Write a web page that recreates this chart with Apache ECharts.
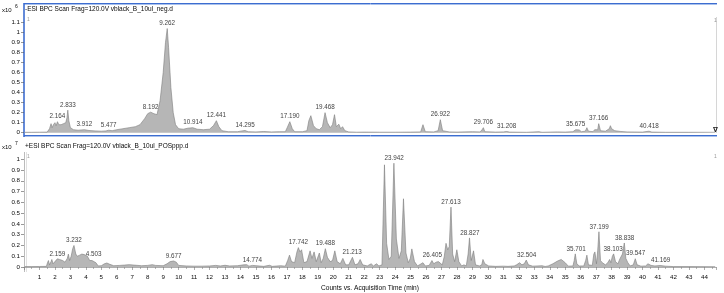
<!DOCTYPE html>
<html>
<head>
<meta charset="utf-8">
<style>
  html, body { margin: 0; padding: 0; background: #fff; }
  #chart { width: 724px; height: 293px; }
</style>
<script src="https://cdn.jsdelivr.net/npm/echarts@6/dist/echarts.min.js"></script>
</head>
<body>
<div id="chart"></div>
<script>
// -ESI trace, x10^6 counts: [time (min), intensity]
var negTrace = [
  [0.05,0.004],[0.5,0.004],[1.0,0.005],[1.5,0.006],[1.65,0.04],[1.75,0.09],[1.82,0.05],[1.9,0.08],
  [2.0,0.1],[2.08,0.07],[2.164,0.11],[2.25,0.08],[2.4,0.08],[2.55,0.09],[2.7,0.1],[2.78,0.15],
  [2.833,0.225],[2.9,0.12],[3.0,0.05],[3.2,0.03],[3.5,0.025],[3.912,0.03],[4.2,0.022],[4.6,0.018],
  [5.0,0.015],[5.3,0.018],[5.477,0.025],[5.7,0.02],[6.0,0.03],[6.4,0.04],[6.8,0.05],[7.2,0.06],
  [7.5,0.08],[7.8,0.14],[8.0,0.19],[8.192,0.205],[8.4,0.19],[8.6,0.18],[8.8,0.32],[9.0,0.6],
  [9.15,0.9],[9.262,1.04],[9.35,0.85],[9.5,0.45],[9.65,0.2],[9.8,0.08],[10.0,0.04],[10.3,0.035],
  [10.6,0.045],[10.914,0.05],[11.2,0.035],[11.6,0.03],[12.0,0.035],[12.25,0.07],[12.441,0.12],
  [12.6,0.06],[12.8,0.02],[13.2,0.01],[13.8,0.01],[14.1,0.018],[14.295,0.022],[14.5,0.01],
  [15.0,0.008],[15.5,0.012],[16.0,0.008],[16.5,0.01],[16.9,0.01],[17.02,0.05],[17.19,0.11],
  [17.35,0.04],[17.5,0.01],[18.0,0.01],[18.3,0.02],[18.42,0.12],[18.55,0.17],[18.72,0.07],
  [18.9,0.04],[19.1,0.03],[19.3,0.06],[19.468,0.2],[19.62,0.1],[19.8,0.05],[19.95,0.08],
  [20.08,0.18],[20.2,0.06],[20.36,0.085],[20.48,0.04],[20.6,0.06],[20.75,0.02],[21.0,0.008],
  [21.5,0.005],[22.0,0.006],[23.0,0.005],[24.0,0.005],[25.0,0.006],[25.65,0.008],[25.8,0.08],
  [25.95,0.01],[26.5,0.008],[26.78,0.02],[26.922,0.13],[27.07,0.02],[27.5,0.008],[28.0,0.006],
  [29.0,0.01],[29.5,0.008],[29.62,0.03],[29.706,0.05],[29.8,0.01],[30.5,0.006],[31.0,0.008],
  [31.208,0.012],[31.4,0.006],[32.5,0.004],[33.3,0.01],[33.5,0.004],[34.5,0.008],[35.0,0.006],
  [35.5,0.01],[35.6,0.028],[35.675,0.03],[35.8,0.02],[35.9,0.028],[36.05,0.01],[36.3,0.015],
  [36.4,0.05],[36.5,0.015],[36.8,0.01],[36.9,0.03],[37.0,0.015],[37.1,0.03],[37.166,0.09],
  [37.28,0.02],[37.6,0.015],[37.85,0.04],[37.92,0.07],[38.0,0.04],[38.2,0.02],[38.6,0.012],
  [39.0,0.008],[40.0,0.006],[40.418,0.015],[40.6,0.006],[41.5,0.004],[43.0,0.004],[44.7,0.004]
];

// +ESI trace, x10^7 counts
var posTrace = [
  [0.05,0.004],[0.5,0.004],[1.0,0.005],[1.45,0.006],[1.52,0.04],[1.58,0.06],[1.65,0.02],[1.75,0.05],
  [1.8,0.07],[1.88,0.03],[2.0,0.05],[2.159,0.076],[2.3,0.07],[2.5,0.06],[2.65,0.045],[2.8,0.08],
  [2.87,0.12],[2.95,0.06],[3.05,0.1],[3.15,0.17],[3.232,0.2],[3.35,0.12],[3.45,0.1],[3.6,0.11],
  [3.74,0.12],[3.9,0.115],[4.1,0.1],[4.25,0.06],[4.4,0.06],[4.503,0.068],[4.65,0.04],[4.8,0.01],
  [5.0,0.012],[5.2,0.03],[5.36,0.037],[5.55,0.025],[5.8,0.012],[6.2,0.015],[6.5,0.018],[6.8,0.022],
  [7.1,0.018],[7.6,0.012],[8.0,0.015],[8.3,0.022],[8.5,0.015],[9.0,0.012],[9.25,0.03],[9.45,0.05],
  [9.677,0.056],[9.85,0.045],[10.0,0.015],[10.5,0.01],[11.0,0.008],[11.5,0.008],[12.0,0.01],
  [12.4,0.015],[12.7,0.01],[13.0,0.016],[13.3,0.01],[13.8,0.012],[14.2,0.02],[14.4,0.022],
  [14.55,0.008],[14.774,0.015],[14.9,0.006],[15.5,0.006],[15.88,0.016],[16.05,0.006],[16.6,0.012],
  [16.9,0.008],[17.05,0.06],[17.17,0.11],[17.3,0.05],[17.5,0.04],[17.65,0.14],[17.742,0.18],
  [17.85,0.14],[17.95,0.16],[18.1,0.04],[18.3,0.05],[18.5,0.15],[18.62,0.08],[18.76,0.14],
  [18.9,0.05],[19.0,0.06],[19.1,0.13],[19.22,0.04],[19.35,0.08],[19.488,0.17],[19.62,0.09],
  [19.8,0.05],[19.95,0.06],[20.1,0.15],[20.25,0.05],[20.45,0.03],[20.62,0.08],[20.8,0.02],
  [21.0,0.02],[21.24,0.09],[21.4,0.02],[21.6,0.03],[21.74,0.07],[21.9,0.02],[22.2,0.01],
  [22.45,0.03],[22.6,0.01],[22.8,0.03],[22.95,0.01],[23.15,0.02],[23.31,0.948],[23.45,0.22],
  [23.6,0.07],[23.75,0.1],[23.92,0.963],[24.08,0.26],[24.25,0.08],[24.4,0.15],[24.54,0.633],
  [24.7,0.13],[24.85,0.04],[24.98,0.08],[25.08,0.168],[25.25,0.05],[25.45,0.01],[25.8,0.04],
  [25.95,0.01],[26.2,0.015],[26.38,0.06],[26.5,0.03],[26.65,0.045],[26.8,0.05],[26.92,0.06],
  [27.05,0.02],[27.18,0.1],[27.29,0.22],[27.4,0.16],[27.5,0.19],[27.613,0.556],[27.72,0.12],
  [27.85,0.05],[27.99,0.16],[28.12,0.05],[28.3,0.01],[28.45,0.02],[28.6,0.01],[28.72,0.12],
  [28.81,0.27],[28.92,0.06],[29.07,0.15],[29.2,0.02],[29.45,0.01],[29.6,0.02],[29.68,0.07],
  [29.8,0.03],[29.9,0.045],[30.05,0.01],[30.5,0.006],[31.0,0.008],[31.12,0.016],[31.3,0.006],
  [31.7,0.01],[31.85,0.02],[31.95,0.015],[32.05,0.04],[32.2,0.02],[32.35,0.03],[32.48,0.064],
  [32.62,0.02],[32.9,0.008],[33.5,0.012],[33.7,0.005],[33.9,0.01],[34.2,0.03],[34.5,0.055],
  [34.74,0.07],[35.0,0.04],[35.2,0.008],[35.5,0.01],[35.58,0.06],[35.65,0.122],[35.75,0.03],
  [35.9,0.01],[36.2,0.01],[36.32,0.06],[36.4,0.11],[36.5,0.02],[36.75,0.015],[36.85,0.12],
  [36.92,0.14],[37.02,0.03],[37.1,0.15],[37.18,0.327],[37.28,0.06],[37.4,0.04],[37.48,0.05],
  [37.6,0.02],[37.75,0.04],[37.87,0.07],[37.95,0.04],[38.05,0.1],[38.13,0.122],[38.25,0.05],
  [38.4,0.03],[38.55,0.08],[38.62,0.07],[38.7,0.12],[38.82,0.223],[38.92,0.08],[39.05,0.04],
  [39.2,0.01],[39.4,0.02],[39.53,0.077],[39.65,0.02],[39.9,0.008],[40.2,0.01],[40.35,0.03],
  [40.42,0.04],[40.55,0.015],[40.8,0.01],[41.14,0.014],[41.5,0.008],[42.0,0.004],[43.0,0.004],
  [44.7,0.004]
];

// peak annotations: [label, time, apex height]
var negPeaks = [
  ['2.164',2.164,0.11],['2.833',2.833,0.225],['3.912',3.912,0.03],['5.477',5.477,0.025],
  ['8.192',8.192,0.205],['9.262',9.262,1.04],['10.914',10.914,0.05],['12.441',12.441,0.12],
  ['14.295',14.295,0.022],['17.190',17.19,0.11],['19.468',19.468,0.2],['26.922',26.922,0.13],
  ['29.706',29.706,0.05],['31.208',31.208,0.012],['35.675',35.675,0.03],['37.166',37.166,0.09],
  ['40.418',40.418,0.015]
];
var posPeaks = [
  ['2.159',2.159,0.076],['3.232',3.232,0.2],['4.503',4.503,0.068],['9.677',9.677,0.056],
  ['14.774',14.774,0.015],['17.742',17.742,0.18],['19.488',19.488,0.17],['21.213',21.213,0.09],
  ['23.942',23.942,0.963],['26.405',26.405,0.06],['27.613',27.613,0.556],['28.827',28.827,0.27],
  ['32.504',32.504,0.064],['35.701',35.701,0.122],['37.199',37.199,0.327],['38.103',38.103,0.122],
  ['38.838',38.838,0.223],['39.547',39.547,0.077],['41.169',41.169,0.014]
];

var negTicks = [0,0.1,0.2,0.3,0.4,0.5,0.6,0.7,0.8,0.9,1,1.1];
var posTicks = [0,0.1,0.2,0.3,0.4,0.5,0.6,0.7,0.8,0.9,1];
var negTitle = '-ESI BPC Scan Frag=120.0V vblack_B_10ul_neg.d';
var posTitle = '+ESI BPC Scan Frag=120.0V vblack_B_10ul_POSppp.d';
var xName = 'Counts vs. Acquisition Time (min)';

var FONT = 'Liberation Sans';
var chart = echarts.init(document.getElementById('chart'), null, { renderer: 'canvas' });

function peakSeries(peaks, idx) {
  return {
    type: 'scatter', xAxisIndex: idx, yAxisIndex: idx, symbolSize: 0, silent: true,
    data: peaks.map(function (p) { return { name: p[0], value: [p[1], p[2]] }; }),
    label: {
      show: true, position: 'top', distance: 2, formatter: '{b}',
      fontFamily: FONT, fontSize: 6.3, color: '#0a0a0a'
    }
  };
}
function traceSeries(data, idx) {
  return {
    type: 'line', xAxisIndex: idx, yAxisIndex: idx, data: data,
    showSymbol: false, silent: true,
    lineStyle: { color: '#7c7c7c', width: 0.6 },
    areaStyle: { color: '#b6b6b6', opacity: 1 }
  };
}
function yAxis(idx, min, max, ticks) {
  return {
    gridIndex: idx, type: 'value', min: min, max: max,
    axisLine: { show: false }, splitLine: { show: false },
    axisTick: { show: true, length: 3, customValues: ticks, lineStyle: { color: '#555', width: 0.6 } },
    axisLabel: { customValues: ticks, fontFamily: FONT, fontSize: 6.2, color: '#0a0a0a', margin: 4 }
  };
}

var blue = '#3d6dd0', blueLight = '#a9c1ec';
var option = {
  animation: false,
  grid: [
    { left: 24, right: 8, top: 15, height: 121 },
    { left: 24, right: 8, top: 152, bottom: 20.7 }
  ],
  xAxis: [
    { gridIndex: 0, type: 'value', min: 0, max: 44.75, show: false },
    {
      gridIndex: 1, type: 'value', min: 0, max: 44.75, interval: 1,
      axisLine: { show: true, lineStyle: { color: '#999', width: 0.8 } },
      axisTick: { show: true, length: 3, lineStyle: { color: '#777', width: 0.6 } },
      minorTick: { show: true, splitNumber: 2, length: 2, lineStyle: { color: '#888', width: 0.6 } },
      splitLine: { show: false },
      axisLabel: { showMinLabel: false, showMaxLabel: false, fontFamily: FONT, fontSize: 6.2, color: '#0a0a0a', margin: 3 },
      name: xName, nameLocation: 'middle', nameGap: 14,
      nameTextStyle: { fontFamily: FONT, fontSize: 6.6, color: '#0a0a0a' }
    }
  ],
  yAxis: [
    yAxis(0, -0.033, 1.175, negTicks),
    yAxis(1, -0.037, 1.067, posTicks)
  ],
  series: [
    traceSeries(negTrace, 0), peakSeries(negPeaks, 0),
    traceSeries(posTrace, 1), peakSeries(posPeaks, 1)
  ],
  graphic: [
    // top panel frame
    { type: 'line', shape: { x1: 24, y1: 3.5, x2: 717, y2: 3.5 }, style: { stroke: blue, lineWidth: 1 } },
    { type: 'line', shape: { x1: 24, y1: 4.5, x2: 717, y2: 4.5 }, style: { stroke: blueLight, lineWidth: 1 } },
    { type: 'line', shape: { x1: 24, y1: 135.5, x2: 717, y2: 135.5 }, style: { stroke: blue, lineWidth: 1 } },
    { type: 'line', shape: { x1: 24, y1: 136.5, x2: 717, y2: 136.5 }, style: { stroke: blueLight, lineWidth: 1 } },
    { type: 'line', shape: { x1: 24, y1: 3, x2: 24, y2: 137 }, style: { stroke: blue, lineWidth: 1.6 } },
    { type: 'line', shape: { x1: 716.5, y1: 17, x2: 716.5, y2: 133 }, style: { stroke: '#ccc', lineWidth: 0.8 } },
    // bottom panel frame
    { type: 'line', shape: { x1: 24.5, y1: 152, x2: 24.5, y2: 272 }, style: { stroke: '#aaa', lineWidth: 0.8 } },
    { type: 'line', shape: { x1: 26.5, y1: 152, x2: 26.5, y2: 272 }, style: { stroke: '#ccc', lineWidth: 0.6 } },
    // titles and multipliers
    { type: 'text', left: 25, top: 6, style: { text: negTitle, font: '6.5px ' + FONT, fill: '#0a0a0a' } },
    { type: 'text', left: 25, top: 143, style: { text: posTitle, font: '6.5px ' + FONT, fill: '#0a0a0a' } },
    { type: 'text', left: 2, top: 7, style: { text: 'x10', font: '6px ' + FONT, fill: '#0a0a0a' } },
    { type: 'text', left: 15, top: 4.5, style: { text: '6', font: '5px ' + FONT, fill: '#0a0a0a' } },
    { type: 'text', left: 2, top: 144, style: { text: 'x10', font: '6px ' + FONT, fill: '#0a0a0a' } },
    { type: 'text', left: 15, top: 141.5, style: { text: '7', font: '5px ' + FONT, fill: '#0a0a0a' } },
    // panel index marks
    { type: 'text', left: 27, top: 17, style: { text: '1', font: '5px ' + FONT, fill: '#999' } },
    { type: 'text', left: 714, top: 18, style: { text: '1', font: '5px ' + FONT, fill: '#999' } },
    { type: 'text', left: 27, top: 154, style: { text: '1', font: '5px ' + FONT, fill: '#999' } },
    { type: 'text', left: 714, top: 154, style: { text: '1', font: '5px ' + FONT, fill: '#999' } },
    { type: 'text', left: 713, top: 127, style: { text: '\u2207', font: 'bold 7px DejaVu Sans', fill: '#222' } }
  ]
};
chart.setOption(option);
</script>
</body>
</html>
